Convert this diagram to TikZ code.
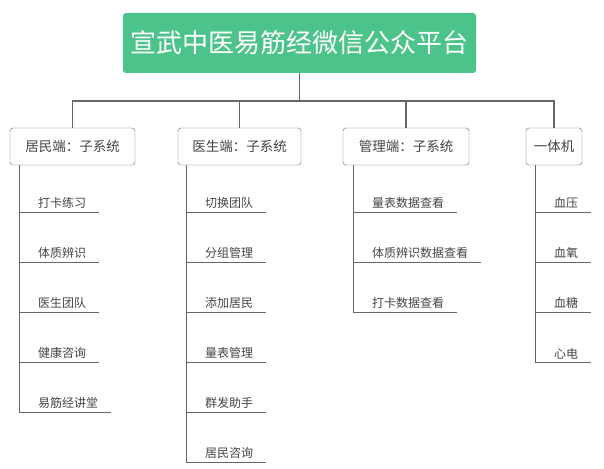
\documentclass[tikz,border=0pt]{standalone}
\usepackage{fontspec}
\setmainfont{Noto Sans CJK SC}
\usetikzlibrary{positioning}
\definecolor{rootgreen}{HTML}{4CC38A}
\definecolor{linegray}{HTML}{666666}
\definecolor{textgray}{HTML}{444444}
\tikzset{
  rootbox/.style={fill=rootgreen,text=white,rounded corners=3pt,minimum width=353pt,minimum height=60pt,font=\fontsize{26}{30}\selectfont},
  subbox/.style={draw=linegray,fill=white,rounded corners=3pt,minimum height=37pt,inner xsep=7pt,text=textgray,font=\fontsize{13.5}{15}\selectfont},
  leaf/.style={anchor=south west,inner xsep=0pt,inner ysep=3pt,text=textgray,font=\fontsize{12}{14}\selectfont},
  conn/.style={draw=linegray,line width=1.6pt},
  twig/.style={draw=linegray,line width=0.9pt},
}
\begin{document}
\begin{tikzpicture}[x=1pt,y=-1pt]
\useasboundingbox (0,0) rectangle (604,468);
\node[rootbox] (root) at (299.5,43) {宣武中医易筋经微信公众平台};
\node[subbox,minimum width=125pt] (s1) at (72.5,146.5) {居民端：子系统};
\node[subbox,minimum width=123pt] (s2) at (239.5,146.5) {医生端：子系统};
\node[subbox,minimum width=126pt] (s3) at (406,146.5) {管理端：子系统};
\node[subbox,minimum width=56pt] (s4) at (554,146.5) {一体机};
\coordinate (hub) at (299.5,101);
\draw[conn] (root.south) -- (hub);
\draw[conn] (s1.north) |- (hub) -| (s4.north);
\draw[conn] (s2.north) -- (s2.north |- hub);
\draw[conn] (s3.north) -- (s3.north |- hub);
% leaves
\foreach \col/\x/\items in {
  s1/19/{打卡练习,体质辨识,医生团队,健康咨询,易筋经讲堂},
  s2/186/{切换团队,分组管理,添加居民,量表管理,群发助手,居民咨询},
  s3/353/{量表数据查看,体质辨识数据查看,打卡数据查看},
  s4/535/{血压,血氧,血糖,心电}}{
  \foreach \t [count=\i] in \items {
    \node[leaf] (\col-\i) at (\x+19,162+50*\i) {\t};
    \draw[twig] (\x,162+50*\i) -- ([xshift=13pt]\col-\i.south east);
    \xdef\last{\i}
  }
  \draw[twig] (\x,165) -- (\x,162+50*\last);
}
\end{tikzpicture}
\end{document}
